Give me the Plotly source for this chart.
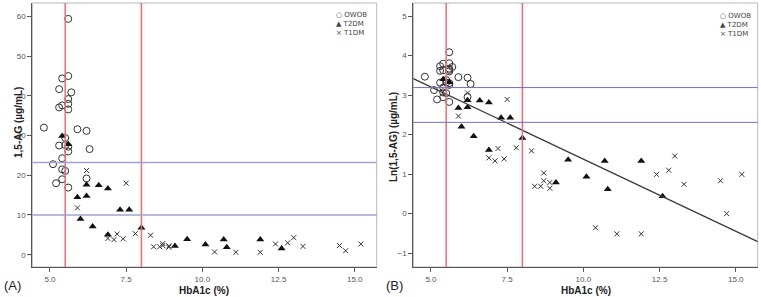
import numpy as np
import plotly.graph_objects as go

# ---------------- data ----------------
owob_hba1c = [4.8, 5.6, 5.4, 5.6, 5.3, 5.7, 5.6, 5.6, 5.4, 5.3, 5.6, 5.9, 6.2, 5.5,
              5.3, 5.5, 5.6, 5.6, 6.3, 5.4, 5.1, 5.4, 5.5, 5.2, 5.4, 6.2, 5.6]
owob_ag = [32.0, 59.4, 44.4, 45.0, 41.7, 40.9, 39.2, 38.0, 37.6, 37.1, 36.6, 31.6, 31.2, 29.4,
           27.5, 27.6, 27.2, 26.0, 26.6, 24.3, 22.8, 21.5, 21.1, 18.0, 19.0, 19.2, 16.9]

t2dm_hba1c = [5.4, 5.6, 5.9, 6.2, 6.2, 6.0, 6.6, 6.9, 6.4, 6.9, 7.3, 7.6, 8.0,
              9.1, 9.5, 10.1, 10.7, 10.8, 11.9, 12.6]
t2dm_ag = [29.9, 27.8, 14.5, 17.6, 14.8, 9.0, 17.5, 16.7, 7.1, 5.0, 11.3, 11.3, 6.8,
           2.2, 3.9, 2.55, 3.8, 1.85, 3.8, 1.55]

t1dm_hba1c = [6.2, 5.9, 7.5, 6.9, 7.1, 7.2, 7.4, 7.8, 8.3, 8.4, 8.6, 8.7, 8.7, 8.9, 8.9,
              10.4, 11.1, 11.9, 12.4, 12.8, 13.0, 13.3, 14.5, 14.7, 15.2]
t1dm_ag = [21.2, 11.8, 18.0, 4.1, 3.8, 5.2, 4.0, 5.3, 4.9, 2.0, 2.0, 2.8, 2.3, 2.2, 1.9,
           0.7, 0.6, 0.6, 2.7, 3.0, 4.3, 2.1, 2.3, 1.0, 2.7]

group_names = ["OWOB", "T2DM", "T1DM"]
group_symbols = ["○", "▲", "×"]

hba1c_cutoffs = [5.5, 8.0]
ag_cutoffs = [23.2, 10.0]
ln_cutoffs = [3.19, 2.31]
fit_intercept = 5.03
fit_slope = -0.365

x_ticks = [5.0, 7.5, 10.0, 12.5, 15.0]
x_tick_text = ["5.0", "7.5", "10.0", "12.5", "15.0"]
yA_ticks = [0, 10, 20, 30, 40, 50, 60]
yB_ticks = [-1, 0, 1, 2, 3, 4, 5]

X_RANGE = [4.42, 15.72]
YA_RANGE = [-3.1, 63.4]
YB_RANGE = [-1.35, 5.33]

W, H = 761, 297
dom_y = [1 - 267 / H, 1 - 3 / H]
dom_xA = [32.3 / W, 376.7 / W]
dom_xB = [413.3 / W, 757.7 / W]

FONT = "Liberation Sans, Arial, sans-serif"

fig = go.Figure()

def add_series(xs, ys, xa, ya):
    fig.add_trace(go.Scatter(
        x=xs[0], y=ys[0], mode="markers", name=group_names[0], xaxis=xa, yaxis=ya, showlegend=False,
        marker=dict(symbol="circle-open", size=7, color="#333333", line=dict(width=1, color="#333333"))))
    fig.add_trace(go.Scatter(
        x=xs[1], y=ys[1], mode="markers", name=group_names[1], xaxis=xa, yaxis=ya, showlegend=False,
        marker=dict(symbol="triangle-up", size=7, color="#111111")))
    fig.add_trace(go.Scatter(
        x=xs[2], y=ys[2], mode="markers", name=group_names[2], xaxis=xa, yaxis=ya, showlegend=False,
        marker=dict(symbol="x-thin-open", size=5, color="#333333", line=dict(width=1, color="#333333"))))

xs = [owob_hba1c, t2dm_hba1c, t1dm_hba1c]
add_series(xs, [owob_ag, t2dm_ag, t1dm_ag], "x", "y")
add_series(xs, [list(np.log(owob_ag)), list(np.log(t2dm_ag)), list(np.log(t1dm_ag))], "x2", "y2")

# regression line in panel B
fx = np.array(X_RANGE)
fig.add_trace(go.Scatter(x=fx, y=fit_intercept + fit_slope * fx, mode="lines",
                         xaxis="x2", yaxis="y2", showlegend=False, hoverinfo="skip",
                         line=dict(color="#3a3a3a", width=1.3)))

shapes = []
for xr, yr in (("x", "y"), ("x2", "y2")):
    shapes.append(dict(type="rect", xref=xr + " domain", yref=yr + " domain", x0=0, x1=1, y0=0, y1=1,
                       line=dict(color="#b8b8b8", width=1), fillcolor="rgba(0,0,0,0)", layer="below"))
    for c in hba1c_cutoffs:
        shapes.append(dict(type="rect", xref=xr, yref=yr + " domain", x0=c - 0.12, x1=c + 0.12,
                           y0=0, y1=1, fillcolor="rgba(200,200,200,0.12)", line_width=0, layer="below"))
        shapes.append(dict(type="line", xref=xr, yref=yr + " domain", x0=c, x1=c, y0=0, y1=1,
                           line=dict(color="#d27a82", width=1.5)))
for c in ag_cutoffs:
    shapes.append(dict(type="line", xref="x domain", yref="y", x0=0, x1=1, y0=c, y1=c,
                       line=dict(color="#a3a3d2", width=1.5)))
for c in ln_cutoffs:
    shapes.append(dict(type="line", xref="x2 domain", yref="y2", x0=0, x1=1, y0=c, y1=c,
                       line=dict(color="#6f6fc2", width=1)))

axis_common = dict(showgrid=False, zeroline=False, showline=True, linecolor="#555555", linewidth=1,
                   ticks="outside", ticklen=4, tickcolor="#555555", automargin=False,
                   tickfont=dict(family=FONT, size=8, color="#555555"))

title_font = dict(family=FONT, size=10, color="#222222")
legend_font = dict(family="DejaVu Sans, sans-serif", size=7, color="#444444")

def legend_text():
    return "<br>".join(f"{s} {n}" for s, n in zip(group_symbols, group_names))

annotations = [
    dict(text="(A)", x=2 / W, y=1 - 285 / H, xref="paper", yref="paper", showarrow=False,
         xanchor="left", yanchor="middle", font=dict(family=FONT, size=13, color="#222")),
    dict(text="(B)", x=384 / W, y=1 - 285 / H, xref="paper", yref="paper", showarrow=False,
         xanchor="left", yanchor="middle", font=dict(family=FONT, size=13, color="#222")),
    dict(text="<b>HbA1c (%)</b>", x=(dom_xA[0] + dom_xA[1]) / 2, y=1 - 290 / H, xref="paper", yref="paper",
         showarrow=False, xanchor="center", yanchor="middle", font=title_font),
    dict(text="<b>HbA1c (%)</b>", x=(dom_xB[0] + dom_xB[1]) / 2, y=1 - 290 / H, xref="paper", yref="paper",
         showarrow=False, xanchor="center", yanchor="middle", font=title_font),
    dict(text="<b>1,5-AG (µg/mL)</b>", x=18 / W, y=1 - 123 / H, xref="paper", yref="paper",
         showarrow=False, textangle=-90, xanchor="center", yanchor="middle", font=title_font),
    dict(text="<b>Ln(1,5-AG) (µg/mL)</b>", x=393 / W, y=1 - 137 / H, xref="paper", yref="paper",
         showarrow=False, textangle=-90, xanchor="center", yanchor="middle", font=title_font),
    dict(text=legend_text(), x=334 / W, y=1 - 9 / H, xref="paper", yref="paper", showarrow=False,
         align="left", xanchor="left", yanchor="top", font=legend_font),
    dict(text=legend_text(), x=718 / W, y=1 - 10 / H, xref="paper", yref="paper", showarrow=False,
         align="left", xanchor="left", yanchor="top", font=legend_font),
]

fig.update_layout(
    width=W, height=H, margin=dict(l=0, r=0, t=0, b=0, autoexpand=False),
    paper_bgcolor="white", plot_bgcolor="white", shapes=shapes, annotations=annotations,
    showlegend=False,
    xaxis=dict(domain=dom_xA, range=X_RANGE, anchor="y", tickvals=x_ticks, ticktext=x_tick_text, **axis_common),
    yaxis=dict(domain=dom_y, range=YA_RANGE, anchor="x", tickvals=yA_ticks, **axis_common),
    xaxis2=dict(domain=dom_xB, range=X_RANGE, anchor="y2", tickvals=x_ticks, ticktext=x_tick_text, **axis_common),
    yaxis2=dict(domain=dom_y, range=YB_RANGE, anchor="x2", tickvals=yB_ticks, **axis_common),
)

fig.write_html("out.html", config={"displayModeBar": False},
               post_script="document.body.style.margin='0';document.body.style.overflow='hidden';")
